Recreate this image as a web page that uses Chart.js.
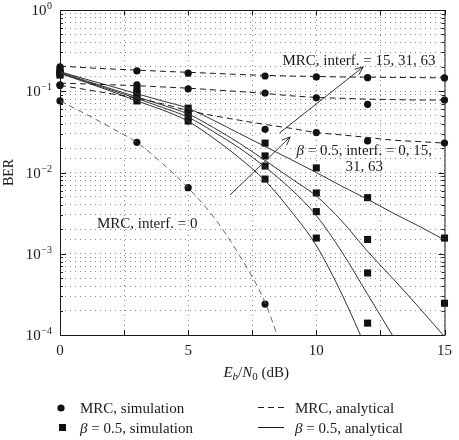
<!DOCTYPE html>
<html>
<head>
<meta charset="utf-8">
<script src="https://cdn.jsdelivr.net/npm/chart.js@4.4.1/dist/chart.umd.min.js"></script>
<style>
  html, body { margin: 0; padding: 0; background: #fff; }
  canvas { display: block; }
</style>
</head>
<body>
<canvas id="berChart" width="459" height="440"></canvas>
<script>
// ---- Data ----
const snrFine = [0, 1, 2, 3, 4, 5, 6, 7, 8, 9, 10, 11, 12, 13, 14, 15];
const snrSim = [0, 3, 5, 8, 10, 12, 15];

// MRC, analytical (dashed)
const mrcAnalytic0 = [0.0759, 0.0525, 0.0355, 0.0234, 0.0129, 0.00646, 0.00282, 0.000955, 0.000251, 0.0000316];
const mrcAnalytic15 = [0.118, 0.105, 0.093, 0.082, 0.070, 0.058, 0.050, 0.044, 0.039, 0.035, 0.031, 0.029, 0.027, 0.025, 0.024, 0.023];
const mrcAnalytic31 = [0.126, 0.123, 0.120, 0.117, 0.113, 0.109, 0.104, 0.099, 0.094, 0.088, 0.084, 0.082, 0.080, 0.079, 0.078, 0.078];
const mrcAnalytic63 = [0.204, 0.195, 0.188, 0.182, 0.176, 0.171, 0.166, 0.161, 0.157, 0.154, 0.152, 0.150, 0.149, 0.148, 0.147, 0.146];

// beta = 0.5, analytical (solid)
const betaAnalytic0 = [0.166, 0.129, 0.100, 0.0759, 0.0589, 0.0427, 0.0263, 0.0151, 0.00794, 0.00339, 0.00126, 0.000316, 0.000063];
const betaAnalytic15 = [0.168, 0.132, 0.1035, 0.0813, 0.0631, 0.0479, 0.0316, 0.0200, 0.0117, 0.0063, 0.00295, 0.00105, 0.000316, 0.0000955];
const betaAnalytic31 = [0.172, 0.135, 0.107, 0.0851, 0.0676, 0.0525, 0.0355, 0.0229, 0.0141, 0.0085, 0.00513, 0.00251, 0.00107, 0.00049, 0.000219, 0.0000955];
const betaAnalytic63 = [0.174, 0.141, 0.115, 0.0933, 0.0759, 0.0617, 0.0437, 0.0302, 0.0209, 0.0145, 0.0100, 0.00676, 0.00468, 0.00316, 0.00219, 0.00148];

// MRC, simulation (circles)
const mrcSim0 = [0.076, 0.0235, 0.0065, 0.00024];
const mrcSim15 = [0.118, 0.085, 0.057, 0.034, 0.031, 0.0245, 0.023];
const mrcSim31 = [0.12, 0.12, 0.107, 0.095, 0.083, 0.069, 0.078];
const mrcSim63 = [0.2, 0.178, 0.167, 0.154, 0.15, 0.147, 0.146];

// beta = 0.5, simulation (squares)
const betaSim0 = [0.158, 0.076, 0.043, 0.0083, 0.00156, 0.00014];
const betaSim15 = [0.165, 0.085, 0.048, 0.012, 0.0033, 0.00058];
const betaSim31 = [0.172, 0.095, 0.056, 0.016, 0.0056, 0.0015, 0.000246];
const betaSim63 = [0.18, 0.104, 0.062, 0.023, 0.0114, 0.0049, 0.00156];

// Axis ticks
const xTicks = [0, 2.5, 5, 7.5, 10, 12.5, 15];
const xTickLabels = ['0', '', '5', '', '10', '', '15'];
const yDecades = [0, -1, -2, -3, -4];

// Annotations in data coordinates (dB, BER)
const annotations = [
    { lines: ['MRC, interf. = 15, 31, 63'], x: 8.68, y: 0.21, align: 'left' },
    { lines: ['\u03B2 = 0.5, interf. = 0, 15,', '31, 63'], x: 11.87, y: 0.0164, align: 'center', beta: true },
    { lines: ['MRC, interf. = 0'], x: 1.44, y: 0.0021, align: 'left' }
];
const arrows = [
    { from: [8.56, 0.0306], to: [11.83, 0.1995] },
    { from: [6.63, 0.00528], to: [8.98, 0.0274] }
];

const SERIF = '"Liberation Serif", "DejaVu Serif", serif';
const INK = '#1a1a1a';

function toPoints(xs, ys) {
    return ys.map((y, i) => ({ x: xs[i], y: y }));
}

function analyticSet(ys, dashed, color) {
    return {
        data: toPoints(snrFine, ys),
        showLine: true,
        borderColor: color || INK,
        borderWidth: 1,
        borderDash: dashed ? [6, 4] : [],
        pointRadius: 0,
        cubicInterpolationMode: 'monotone',
        fill: false
    };
}

function simSet(ys, style) {
    return {
        data: toPoints(snrSim, ys),
        showLine: false,
        pointStyle: style,
        pointRadius: style === 'rect' ? 5 : 3.6,
        backgroundColor: '#111',
        borderWidth: 0,
        clip: false
    };
}

// ---- Custom drawing: frame, ticks, labels, annotations, legend ----
const decorPlugin = {
    id: 'decor',
    afterDraw(chart) {
        const ctx = chart.ctx;
        const area = chart.chartArea;
        const xs = chart.scales.x;
        const ys = chart.scales.y;
        ctx.save();

        // frame
        ctx.strokeStyle = INK;
        ctx.lineWidth = 1;
        ctx.setLineDash([]);
        ctx.strokeRect(area.left + 0.5, area.top + 0.5, area.right - area.left, area.bottom - area.top);

        // inward y ticks
        ctx.beginPath();
        yDecades.forEach(d => {
            for (let m = 1; m <= 9; m++) {
                const v = m * Math.pow(10, d);
                if (v > 1 || v < 1e-4) continue;
                const py = Math.round(ys.getPixelForValue(v)) + 0.5;
                const len = m === 1 ? 6 : 3;
                ctx.moveTo(area.left, py); ctx.lineTo(area.left + len, py);
                ctx.moveTo(area.right, py); ctx.lineTo(area.right - len, py);
            }
        });
        // inward x ticks
        xTicks.forEach(t => {
            const px = Math.round(xs.getPixelForValue(t)) + 0.5;
            ctx.moveTo(px, area.bottom); ctx.lineTo(px, area.bottom - 5);
            ctx.moveTo(px, area.top); ctx.lineTo(px, area.top + 5);
        });
        ctx.stroke();

        // y tick labels 10^k
        ctx.fillStyle = INK;
        ctx.textBaseline = 'alphabetic';
        yDecades.forEach(d => {
            const py = ys.getPixelForValue(Math.pow(10, d));
            const sup = d === 0 ? '0' : '\u2212' + (-d);
            ctx.font = '10px ' + SERIF;
            const supW = ctx.measureText(sup).width;
            const right = area.left - 8;
            ctx.textAlign = 'right';
            ctx.fillText(sup, right, py - 1);
            ctx.font = '15px ' + SERIF;
            ctx.fillText('10', right - supW - 0.5, py + 5);
        });

        // y axis title
        ctx.save();
        ctx.translate(13, (area.top + area.bottom) / 2);
        ctx.rotate(-Math.PI / 2);
        ctx.textAlign = 'center';
        ctx.font = '14px ' + SERIF;
        ctx.fillText('BER', 0, 0);
        ctx.restore();

        // x axis title: E_b/N_0 (dB)
        const parts = [
            { t: 'E', f: 'italic 15px ', dy: 0 },
            { t: 'b', f: 'italic 11px ', dy: 3 },
            { t: '/', f: '15px ', dy: 0 },
            { t: 'N', f: 'italic 15px ', dy: 0 },
            { t: '0', f: '11px ', dy: 3 },
            { t: ' (dB)', f: '15px ', dy: 0 }
        ];
        let total = 0;
        parts.forEach(p => { ctx.font = p.f + SERIF; p.w = ctx.measureText(p.t).width; total += p.w; });
        let cx = (area.left + area.right) / 2 + 4 - total / 2;
        ctx.textAlign = 'left';
        parts.forEach(p => {
            ctx.font = p.f + SERIF;
            ctx.fillText(p.t, cx, 377 + p.dy);
            cx += p.w;
        });

        // annotations
        ctx.font = '15px ' + SERIF;
        annotations.forEach(a => {
            const px = xs.getPixelForValue(a.x);
            const py = ys.getPixelForValue(a.y);
            a.lines.forEach((line, i) => {
                const by = py + i * 16;
                if (a.beta && i === 0) {
                    ctx.font = 'italic 15px ' + SERIF;
                    const bw = ctx.measureText('\u03B2').width;
                    ctx.font = '15px ' + SERIF;
                    const rest = line.slice(1);
                    const rw = ctx.measureText(rest).width;
                    const start = a.align === 'center' ? px - (bw + rw) / 2 : px;
                    ctx.textAlign = 'left';
                    ctx.font = 'italic 15px ' + SERIF;
                    ctx.fillText('\u03B2', start, by);
                    ctx.font = '15px ' + SERIF;
                    ctx.fillText(rest, start + bw, by);
                } else {
                    ctx.textAlign = a.align;
                    ctx.fillText(line, px, by);
                }
            });
        });

        // arrows
        ctx.strokeStyle = '#333';
        ctx.lineWidth = 1;
        arrows.forEach(ar => {
            const x1 = xs.getPixelForValue(ar.from[0]), y1 = ys.getPixelForValue(ar.from[1]);
            const x2 = xs.getPixelForValue(ar.to[0]), y2 = ys.getPixelForValue(ar.to[1]);
            const ang = Math.atan2(y2 - y1, x2 - x1);
            const hl = 9, ha = 0.4;
            ctx.beginPath();
            ctx.moveTo(x1, y1); ctx.lineTo(x2, y2);
            ctx.moveTo(x2 - hl * Math.cos(ang - ha), y2 - hl * Math.sin(ang - ha));
            ctx.lineTo(x2, y2);
            ctx.lineTo(x2 - hl * Math.cos(ang + ha), y2 - hl * Math.sin(ang + ha));
            ctx.stroke();
        });

        // legend (2 x 2)
        ctx.fillStyle = '#111';
        ctx.beginPath(); ctx.arc(61, 408, 3.6, 0, Math.PI * 2); ctx.fill();
        ctx.fillRect(59, 424, 7, 7);
        ctx.strokeStyle = INK;
        ctx.beginPath();
        ctx.setLineDash([6, 4]);
        ctx.moveTo(258, 407.5); ctx.lineTo(286, 407.5);
        ctx.stroke();
        ctx.setLineDash([]);
        ctx.beginPath();
        ctx.moveTo(258, 427.5); ctx.lineTo(284, 427.5);
        ctx.stroke();

        ctx.fillStyle = INK;
        ctx.textAlign = 'left';
        ctx.font = '15px ' + SERIF;
        ctx.fillText('MRC, simulation', 80, 413);
        ctx.fillText('MRC, analytical', 295, 413);
        [[80, 433, 'simulation'], [295, 433, 'analytical']].forEach(([lx, ly, word]) => {
            ctx.font = 'italic 15px ' + SERIF;
            ctx.fillText('\u03B2', lx, ly);
            const bw = ctx.measureText('\u03B2').width;
            ctx.font = '15px ' + SERIF;
            ctx.fillText(' = 0.5, ' + word, lx + bw, ly);
        });

        ctx.restore();
    }
};

// ---- Chart ----
function initBerChart() {
    const ctx = document.getElementById('berChart');
    new Chart(ctx, {
        type: 'scatter',
        data: {
            datasets: [
                analyticSet(mrcAnalytic0, true, '#666'),
                analyticSet(mrcAnalytic15, true),
                analyticSet(mrcAnalytic31, true),
                analyticSet(mrcAnalytic63, true),
                analyticSet(betaAnalytic0, false, '#333'),
                analyticSet(betaAnalytic15, false, '#333'),
                analyticSet(betaAnalytic31, false, '#333'),
                analyticSet(betaAnalytic63, false, '#333'),
                simSet(mrcSim0, 'circle'),
                simSet(mrcSim15, 'circle'),
                simSet(mrcSim31, 'circle'),
                simSet(mrcSim63, 'circle'),
                simSet(betaSim0, 'rect'),
                simSet(betaSim15, 'rect'),
                simSet(betaSim31, 'rect'),
                simSet(betaSim63, 'rect')
            ]
        },
        options: {
            responsive: false,
            animation: false,
            events: [],
            layout: { padding: { top: 10, right: 10, bottom: 60, left: 0 } },
            plugins: {
                legend: { display: false },
                tooltip: { enabled: false }
            },
            scales: {
                x: {
                    type: 'linear',
                    min: 0,
                    max: 15,
                    afterBuildTicks: scale => {
                        scale.ticks = xTicks.map(v => ({ value: v }));
                    },
                    ticks: {
                        autoSkip: false,
                        maxRotation: 0,
                        padding: 7,
                        color: INK,
                        font: { family: SERIF, size: 15 },
                        callback: (v) => xTickLabels[xTicks.indexOf(v)] || ''
                    },
                    grid: { color: '#888', lineWidth: 1, drawTicks: false },
                    border: { display: false, dash: [1, 4] },
                    afterFit: scale => { scale.height = 45; }
                },
                y: {
                    type: 'logarithmic',
                    min: 1e-4,
                    max: 1,
                    ticks: { display: false, autoSkip: false },
                    grid: { color: '#888', lineWidth: 1, drawTicks: false },
                    border: { display: false, dash: [1, 4] },
                    afterFit: scale => { scale.width = 60; }
                }
            }
        },
        plugins: [decorPlugin]
    });
}

document.addEventListener('DOMContentLoaded', initBerChart);
</script>
</body>
</html>
